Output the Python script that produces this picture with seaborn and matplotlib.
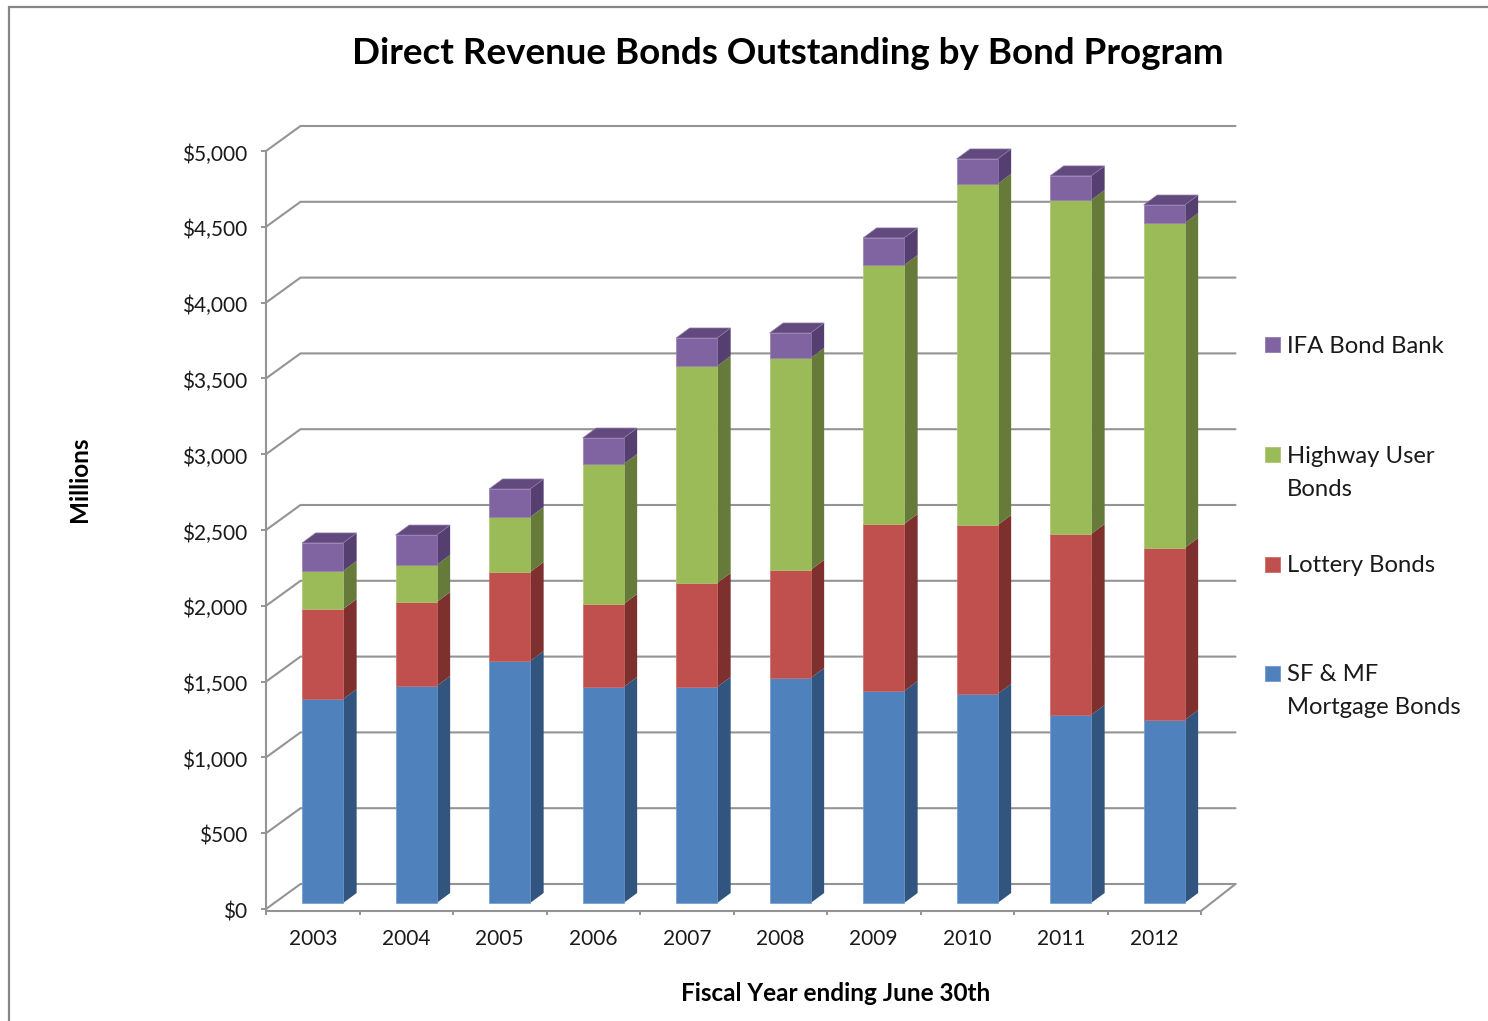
import numpy as np
import pandas as pd
import matplotlib
matplotlib.use("Agg")
import matplotlib.pyplot as plt
from matplotlib.patches import Polygon, Rectangle
from matplotlib.ticker import FixedLocator, StrMethodFormatter
from matplotlib.transforms import ScaledTranslation
import seaborn as sns

years = np.arange(2003, 2013)
mortgage = [1345, 1431, 1596, 1425, 1425, 1484, 1398, 1379, 1240, 1207]
lottery = [594, 554, 587, 547, 686, 713, 1102, 1114, 1194, 1135]
highway = [251, 245, 363, 924, 1431, 1398, 1708, 2250, 2203, 2143]
bond_bank = [185, 197, 185, 171, 185, 165, 179, 165, 159, 119]

series_names = ["SF & MF\nMortgage Bonds", "Lottery Bonds", "Highway User\nBonds", "IFA Bond Bank"]
series_values = [mortgage, lottery, highway, bond_bank]
front_colors = ["#4F81BD", "#C0504D", "#9BBB59", "#8064A2"]
edge_colors = ["#6F9AD0", "#CC6C69", "#ABC773", "#957CB4"]
side_colors = ["#31557F", "#7D302E", "#667A3A", "#553F70"]
top_color = "#62497E"
grid_color = "#949494"
text_color = "#1A1A1A"

W, H = 1488, 1021
LEFT, RIGHT, TOP, BOTTOM = 266.0, 1201.0, 151.0, 909.0
fx = lambda x: x / W
fy = lambda y: 1 - y / H

sns.set_theme(style="white")
plt.rcParams["font.family"] = ["Lato", "DejaVu Sans"]

fig = plt.figure(figsize=(W / 100, H / 100), dpi=100, facecolor="white")
ax = fig.add_axes([fx(LEFT), fy(BOTTOM), fx(RIGHT) - fx(LEFT), fy(TOP) - fy(BOTTOM)])
ax.patch.set_alpha(0)

x_per_px = 10 / (RIGHT - LEFT)
v_per_px = 5000 / (BOTTOM - TOP)

# Oblique projection offsets, in data units
wall_dx, wall_dy = 34.5 * x_per_px, 25 * v_per_px
bar_dx, bar_dy = 13.5 * x_per_px, 10 * v_per_px
bar_width = 41 * x_per_px
bar_shift = 9.9 * x_per_px
bar_base = 6 * v_per_px

# Back wall, side wall and floor
x0, x1 = years[0] - 0.5, years[-1] + 0.5
for level in range(0, 5001, 500):
    ax.plot([x0, x0 + wall_dx, x1 + wall_dx], [level, level + wall_dy, level + wall_dy],
            color=grid_color, lw=1.5, clip_on=False, zorder=1, solid_joinstyle="miter")
ax.plot([x1, x1 + wall_dx], [-2 * v_per_px, wall_dy], color=grid_color, lw=1.5, clip_on=False, zorder=1)

# Stacked bars: front faces through seaborn, receding faces as polygons
xpos = years + bar_shift
bottoms = np.full(len(years), bar_base, dtype=float)
for i, (name, values) in enumerate(zip(series_names, series_values)):
    values = np.asarray(values, dtype=float)
    frame = pd.DataFrame({"year": xpos, "amount": values})
    sns.barplot(data=frame, x="year", y="amount", native_scale=True, ax=ax, bottom=bottoms,
                width=bar_width, color=front_colors[i], saturation=1, errorbar=None,
                edgecolor=edge_colors[i], linewidth=0.5, zorder=4, clip_on=False)
    tops = bottoms + values
    for xc, lo, hi in zip(xpos, bottoms, tops):
        xr = xc + bar_width / 2
        ax.add_patch(Polygon([(xr, lo), (xr + bar_dx, lo + bar_dy), (xr + bar_dx, hi + bar_dy), (xr, hi)],
                             closed=True, facecolor=side_colors[i], edgecolor="none",
                             zorder=3, clip_on=False))
    bottoms = tops

# Caps on top of each column
for xc, hi in zip(xpos, bottoms):
    xl, xr = xc - bar_width / 2, xc + bar_width / 2
    ax.add_patch(Polygon([(xl, hi), (xl + bar_dx, hi + bar_dy), (xr + bar_dx, hi + bar_dy), (xr, hi)],
                         closed=True, facecolor=top_color, edgecolor="#8D7AA6", linewidth=0.5,
                         zorder=3, clip_on=False))

ax.set_xlim(x0, x1)
ax.set_ylim(0, 5000)
sns.despine(ax=ax, top=True, right=True)
for side in ("left", "bottom"):
    ax.spines[side].set_color(grid_color)
    ax.spines[side].set_linewidth(1.5)
ax.spines["bottom"].set_position(("outward", 1.4))

# Value axis
ax.yaxis.set_major_locator(FixedLocator(np.arange(0, 5001, 500)))
ax.yaxis.set_major_formatter(StrMethodFormatter("${x:,.0f}"))
ax.tick_params(axis="y", which="major", left=True, length=3.6, width=1.4, color=grid_color,
               labelsize=15, labelcolor=text_color, pad=10)
label_nudge = ScaledTranslation(0, -1.5 / 100, fig.dpi_scale_trans)
for label in ax.get_yticklabels():
    label.set_transform(label.get_transform() + label_nudge)

# Year axis: labels at slot centres, tick marks at slot boundaries
ax.set_xticks(years)
ax.set_xticklabels([str(y) for y in years])
ax.set_xticks(np.arange(x0, x1 + 0.5), minor=True)
ax.tick_params(axis="x", which="major", bottom=False, labelsize=15, labelcolor=text_color, pad=7)
ax.tick_params(axis="x", which="minor", bottom=True, length=3.2, width=1.4, color=grid_color)
ax.grid(False)

ax.set_xlabel("Fiscal Year ending June 30th", fontsize=17.5, fontweight="bold", color="black")
ax.xaxis.set_label_coords(fx(836), fy(982), transform=fig.transFigure)
ax.set_ylabel("Millions", fontsize=17.5, fontweight="bold", color="black")
ax.yaxis.set_label_coords(fx(91), fy(479), transform=fig.transFigure)

fig.suptitle("Direct Revenue Bonds Outstanding by Bond Program", x=fx(788), y=fy(53),
             ha="center", va="center", fontsize=26.5, fontweight="bold", color="black")

# Legend, newest series first, with squares aligned to each entry's first line
legend_rows = [345, 455, 564, 673]
for row, i in zip(legend_rows, reversed(range(len(series_names)))):
    fig.add_artist(Rectangle((fx(1265), fy(row + 7.5)), 15 / W, 15 / H, transform=fig.transFigure,
                             facecolor=front_colors[i], edgecolor=edge_colors[i], linewidth=0.6))
    fig.text(fx(1287), fy(row - 9), series_names[i], ha="left", va="top", fontsize=17.2,
             color=text_color, linespacing=1.68)

# Chart frame running off the right and bottom of the sheet
fig.add_artist(plt.Line2D([fx(9), fx(9), 1.0], [0.0, fy(7), fy(7)], transform=fig.transFigure,
                          color="#868686", lw=1.6, solid_joinstyle="miter"))

fig.savefig("out.png", dpi=100, facecolor="white")
